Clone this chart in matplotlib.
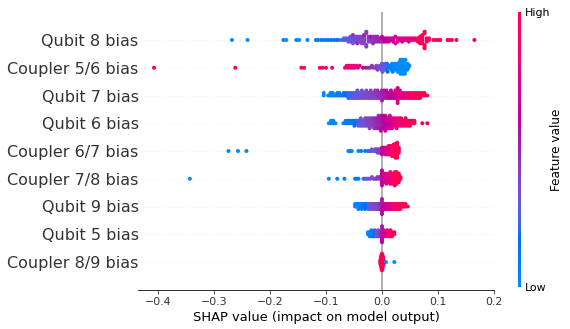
import numpy as np
import matplotlib
matplotlib.use("Agg")
import matplotlib.pyplot as plt
from matplotlib.colors import LinearSegmentedColormap
from matplotlib.cm import ScalarMappable

# ---------------- data (top row first) ----------------
features = ["Qubit 8 bias", "Coupler 5/6 bias", "Qubit 7 bias", "Qubit 6 bias",
            "Coupler 6/7 bias", "Coupler 7/8 bias", "Qubit 9 bias", "Qubit 5 bias",
            "Coupler 8/9 bias"]

qubit8_shap = [
    -0.268, -0.240, -0.176, -0.171, -0.153, -0.148, -0.133, -0.118, -0.114, -0.109,
    -0.105, -0.100, -0.096, -0.091, -0.086, -0.081, -0.077, -0.072,
    -0.068, -0.068, -0.064, -0.064,
    -0.060, -0.060, -0.060, -0.056, -0.056, -0.056, -0.056,
    -0.052, -0.052, -0.052, -0.052, -0.052, -0.052,
    -0.048, -0.048, -0.048, -0.048, -0.044, -0.044, -0.044, -0.044, -0.044,
    -0.040, -0.040, -0.040, -0.040, -0.036, -0.036, -0.036, -0.036, -0.036,
    -0.032, -0.032, -0.032, -0.032, -0.032, -0.032, -0.028, -0.028, -0.028, -0.028,
    -0.024, -0.024, -0.024, -0.024, -0.020, -0.020, -0.020, -0.020,
    -0.016, -0.016, -0.016, -0.016, -0.016, -0.012, -0.012, -0.012, -0.012,
    -0.008, -0.008, -0.008, -0.008, -0.004, -0.004, -0.004,
    0.000, 0.000, 0.000, 0.000, 0.004, 0.004, 0.004, 0.008, 0.008, 0.008,
    0.012, 0.012, 0.012, 0.016, 0.016, 0.020, 0.020, 0.020, 0.024, 0.024,
    0.028, 0.028, 0.028, 0.032, 0.032, 0.036, 0.036, 0.036, 0.040, 0.040,
    0.044, 0.044, 0.048, 0.048, 0.048, 0.052, 0.052, 0.056, 0.056, 0.060, 0.060,
    0.064, 0.064, 0.064, 0.068, 0.068, 0.068, 0.068, 0.068,
    0.072, 0.072, 0.072, 0.072, 0.072, 0.072, 0.076, 0.076, 0.076, 0.076, 0.076,
    0.080, 0.080, 0.080, 0.084, 0.084,
    0.092, 0.096, 0.101, 0.104, 0.117, 0.121, 0.125, 0.133, 0.165]
qubit8_feat = [
    0.00, 0.00, 0.02, 0.02, 0.03, 0.03, 0.05, 0.06, 0.06, 0.08,
    0.08, 0.10, 0.10, 0.12, 0.15, 0.18, 0.20, 0.22,
    0.25, 0.26, 0.28, 0.27,
    0.30, 0.31, 0.29, 0.32, 0.33, 0.30, 0.34,
    0.33, 0.35, 0.32, 0.36, 0.34, 0.48,
    0.35, 0.36, 0.34, 0.37, 0.36, 0.38, 0.35, 0.37, 0.52,
    0.37, 0.38, 0.36, 0.39, 0.38, 0.40, 0.37, 0.39, 0.41,
    0.39, 0.40, 0.38, 0.41, 0.40, 0.55, 0.40, 0.42, 0.41, 0.43,
    0.42, 0.43, 0.41, 0.44, 0.43, 0.45, 0.42, 0.60,
    0.44, 0.45, 0.43, 0.46, 0.45, 0.46, 0.47, 0.45, 0.48,
    0.47, 0.48, 0.46, 0.49, 0.50, 0.48, 0.52,
    0.58, 0.60, 0.45, 0.62, 0.60, 0.62, 0.64, 0.62, 0.63, 0.65,
    0.64, 0.66, 0.65, 0.65, 0.67, 0.66, 0.68, 0.67, 0.68, 0.70,
    0.69, 0.70, 0.71, 0.70, 0.72, 0.71, 0.73, 0.72, 0.74, 0.75,
    0.75, 0.76, 0.77, 0.78, 0.79, 0.80, 0.81, 0.82, 0.83, 0.84, 0.85,
    0.88, 0.90, 0.89, 0.92, 0.93, 0.91, 0.94, 0.92,
    0.95, 0.96, 0.94, 0.97, 0.95, 0.98, 0.96, 0.97, 0.99, 0.98, 0.97,
    0.99, 1.00, 0.98, 1.00, 0.99,
    1.00, 1.00, 1.00, 1.00, 1.00, 1.00, 1.00, 1.00, 1.00]

coupler56_shap = [
    -0.407, -0.262, -0.144, -0.139, -0.111, -0.106, -0.100, -0.089, -0.066, -0.063,
    -0.061, -0.059, -0.057, -0.055, -0.053, -0.051, -0.049, -0.046, -0.043, -0.040,
    -0.034, -0.029, -0.025, -0.021, -0.018, -0.015, -0.012, -0.010, -0.008, -0.006,
    -0.004, -0.003, -0.002, -0.001, 0.000, 0.001, 0.002, 0.003, 0.004, 0.005,
    0.006, 0.007, 0.008, 0.009, 0.010, 0.012, 0.014, 0.015, 0.016, 0.017,
    0.018, 0.019, 0.020, 0.021, 0.022, 0.023, 0.024, 0.025, 0.026, 0.027,
    0.028, 0.029, 0.030, 0.030, 0.031, 0.032, 0.032, 0.033, 0.033, 0.034,
    0.034, 0.035, 0.035, 0.036, 0.036, 0.037, 0.037, 0.038, 0.038, 0.039,
    0.039, 0.040, 0.040, 0.041, 0.042, 0.043, 0.044, 0.045, 0.046, 0.047,
    0.049]
coupler56_feat = [
    1.00, 1.00, 0.98, 0.98, 0.96, 0.95, 0.94, 0.92, 0.85, 0.84,
    0.84, 0.83, 0.82, 0.82, 0.81, 0.80, 0.80, 0.78, 0.76, 0.74,
    0.62, 0.55, 0.50, 0.48, 0.46, 0.44, 0.42, 0.40, 0.38, 0.37,
    0.36, 0.35, 0.34, 0.33, 0.32, 0.30, 0.30, 0.28, 0.27, 0.26,
    0.25, 0.24, 0.22, 0.20, 0.18, 0.15, 0.12, 0.10, 0.08, 0.06,
    0.05, 0.04, 0.03, 0.03, 0.02, 0.02, 0.01, 0.01, 0.00, 0.00,
    0.00, 0.00, 0.00, 0.00, 0.00, 0.00, 0.00, 0.00, 0.00, 0.00,
    0.00, 0.00, 0.00, 0.00, 0.00, 0.00, 0.00, 0.00, 0.00, 0.00,
    0.00, 0.00, 0.00, 0.00, 0.00, 0.00, 0.00, 0.00, 0.00, 0.00,
    0.00]

qubit7_shap = [
    -0.104, -0.104, -0.096, -0.092, -0.092, -0.088, -0.088, -0.084, -0.080, -0.080,
    -0.076, -0.076, -0.072, -0.068, -0.068, -0.064, -0.064,
    -0.060, -0.060, -0.060, -0.056, -0.056, -0.056, -0.052, -0.052, -0.052,
    -0.048, -0.048, -0.048, -0.044, -0.044, -0.044, -0.044, -0.040, -0.040, -0.040,
    -0.036, -0.036, -0.036, -0.036, -0.032, -0.032, -0.032, -0.028, -0.028, -0.028, -0.028,
    -0.024, -0.024, -0.024, -0.020, -0.020, -0.020, -0.020, -0.016, -0.016, -0.016,
    -0.012, -0.012, -0.012, -0.012, -0.008, -0.008, -0.008, -0.008, -0.004, -0.004, -0.004,
    0.000, 0.000, 0.000, 0.000, 0.000, 0.004, 0.004, 0.004, 0.004,
    0.008, 0.008, 0.008, 0.008, 0.012, 0.012, 0.012, 0.016, 0.016, 0.016, 0.016,
    0.020, 0.020, 0.020, 0.024, 0.024, 0.024, 0.024,
    0.028, 0.028, 0.028, 0.028, 0.028, 0.028, 0.028,
    0.032, 0.032, 0.032, 0.032, 0.036, 0.036, 0.036, 0.040, 0.040, 0.040,
    0.044, 0.044, 0.044, 0.048, 0.048, 0.048, 0.052, 0.052, 0.052,
    0.056, 0.056, 0.056, 0.060, 0.060, 0.060, 0.064, 0.064, 0.064,
    0.068, 0.068, 0.068, 0.072, 0.072, 0.076, 0.076, 0.081]
qubit7_feat = [
    0.00, 0.00, 0.02, 0.03, 0.03, 0.05, 0.05, 0.07, 0.08, 0.09,
    0.10, 0.11, 0.12, 0.14, 0.15, 0.18, 0.19,
    0.20, 0.22, 0.21, 0.24, 0.23, 0.25, 0.27, 0.26, 0.28,
    0.30, 0.29, 0.31, 0.32, 0.30, 0.33, 0.31, 0.33, 0.34, 0.32,
    0.35, 0.34, 0.36, 0.33, 0.36, 0.37, 0.35, 0.38, 0.37, 0.39, 0.36,
    0.39, 0.40, 0.38, 0.41, 0.40, 0.42, 0.39, 0.42, 0.43, 0.41,
    0.43, 0.44, 0.42, 0.45, 0.45, 0.46, 0.44, 0.47, 0.47, 0.48, 0.46,
    0.49, 0.50, 0.48, 0.52, 0.51, 0.53, 0.54, 0.52, 0.55,
    0.56, 0.57, 0.55, 0.58, 0.58, 0.60, 0.59, 0.61, 0.62, 0.60, 0.63,
    0.64, 0.65, 0.63, 0.66, 0.67, 0.65, 0.68,
    0.69, 0.70, 0.68, 0.71, 0.72, 0.70, 0.73,
    0.74, 0.75, 0.73, 0.76, 0.77, 0.76, 0.78, 0.79, 0.78, 0.80,
    0.81, 0.82, 0.83, 0.84, 0.85, 0.86, 0.87, 0.88, 0.89,
    0.90, 0.91, 0.92, 0.93, 0.94, 0.94, 0.95, 0.96, 0.96,
    0.97, 0.98, 0.98, 0.99, 0.99, 1.00, 1.00, 1.00]

qubit6_shap = [
    -0.095, -0.091, -0.091, -0.087, -0.087, -0.083, -0.069, -0.065, -0.065, -0.061,
    -0.061, -0.057, -0.057, -0.053, -0.053, -0.049, -0.049, -0.049, -0.046, -0.046,
    -0.042, -0.042, -0.042, -0.038, -0.038, -0.038, -0.038, -0.034, -0.034, -0.034,
    -0.030, -0.030, -0.030, -0.030, -0.026, -0.026, -0.026, -0.026,
    -0.022, -0.022, -0.022, -0.022, -0.022, -0.018, -0.018, -0.018, -0.018,
    -0.014, -0.014, -0.014, -0.014, -0.014, -0.010, -0.010, -0.010, -0.010, -0.010,
    -0.006, -0.006, -0.006, -0.006, -0.006, -0.006,
    -0.002, -0.002, -0.002, -0.002, -0.002, -0.002, -0.002,
    0.002, 0.002, 0.002, 0.002, 0.002, 0.002,
    0.006, 0.006, 0.006, 0.006, 0.006, 0.006, 0.006,
    0.010, 0.010, 0.010, 0.010, 0.010, 0.014, 0.014, 0.014, 0.014, 0.014, 0.014,
    0.018, 0.018, 0.018, 0.018, 0.018, 0.022, 0.022, 0.022, 0.022,
    0.026, 0.026, 0.026, 0.026, 0.026, 0.030, 0.030, 0.030, 0.030,
    0.034, 0.034, 0.034, 0.034, 0.038, 0.038, 0.038, 0.042, 0.042, 0.042, 0.042,
    0.046, 0.046, 0.046, 0.050, 0.050, 0.050, 0.054, 0.054, 0.058, 0.058,
    0.072, 0.081]
qubit6_feat = [
    0.00, 0.00, 0.01, 0.02, 0.02, 0.03, 0.05, 0.06, 0.07, 0.08,
    0.09, 0.10, 0.11, 0.12, 0.13, 0.15, 0.16, 0.17, 0.18, 0.20,
    0.28, 0.29, 0.30, 0.30, 0.31, 0.32, 0.31, 0.33, 0.34, 0.33,
    0.35, 0.36, 0.34, 0.37, 0.37, 0.38, 0.36, 0.39,
    0.39, 0.40, 0.41, 0.38, 0.42, 0.42, 0.43, 0.41, 0.44,
    0.45, 0.46, 0.44, 0.47, 0.46, 0.48, 0.49, 0.47, 0.50, 0.48,
    0.50, 0.51, 0.49, 0.52, 0.53, 0.51,
    0.53, 0.54, 0.52, 0.55, 0.56, 0.54, 0.57,
    0.57, 0.58, 0.56, 0.59, 0.60, 0.58,
    0.60, 0.61, 0.59, 0.62, 0.63, 0.61, 0.64,
    0.64, 0.65, 0.63, 0.66, 0.67, 0.67, 0.68, 0.66, 0.69, 0.70, 0.68,
    0.71, 0.72, 0.70, 0.73, 0.74, 0.78, 0.79, 0.77, 0.80,
    0.81, 0.82, 0.80, 0.83, 0.84, 0.85, 0.84, 0.86, 0.85,
    0.87, 0.88, 0.86, 0.89, 0.89, 0.90, 0.90, 0.91, 0.92, 0.91, 0.92,
    0.93, 0.94, 0.93, 0.95, 0.95, 0.96, 0.97, 0.97, 0.98, 0.98,
    1.00, 1.00]

coupler67_shap = [
    -0.274, -0.257, -0.242, -0.060, -0.057, -0.054, -0.042, -0.037, -0.030, -0.025,
    -0.022, -0.020, -0.018, -0.016, -0.014, -0.012, -0.010, -0.009, -0.008, -0.007,
    -0.006, -0.005, -0.004, -0.003, -0.002, -0.001, 0.000, 0.000, 0.000, 0.000,
    0.003, 0.003, 0.003, 0.003, 0.006, 0.006, 0.006, 0.006, 0.006, 0.009,
    0.009, 0.009, 0.009, 0.009, 0.012, 0.012, 0.012, 0.012, 0.012, 0.012,
    0.015, 0.015, 0.015, 0.015, 0.015, 0.015, 0.018, 0.018, 0.018, 0.018,
    0.018, 0.018, 0.018, 0.021, 0.021, 0.021, 0.021, 0.021, 0.021, 0.021,
    0.021, 0.024, 0.024, 0.024, 0.024, 0.024, 0.024, 0.024, 0.024, 0.024,
    0.027, 0.027, 0.027, 0.027, 0.027, 0.027, 0.027, 0.027, 0.027, 0.027,
    0.030, 0.030, 0.030, 0.030]
coupler67_feat = [
    0.00, 0.00, 0.00, 0.05, 0.05, 0.06, 0.08, 0.10, 0.12, 0.22,
    0.25, 0.27, 0.29, 0.31, 0.33, 0.35, 0.37, 0.38, 0.39, 0.40,
    0.41, 0.42, 0.43, 0.44, 0.45, 0.46, 0.55, 0.56, 0.57, 0.58,
    0.60, 0.61, 0.62, 0.63, 0.65, 0.66, 0.67, 0.68, 0.69, 0.71,
    0.72, 0.73, 0.74, 0.75, 0.77, 0.78, 0.79, 0.80, 0.81, 0.82,
    0.83, 0.84, 0.85, 0.86, 0.87, 0.88, 0.89, 0.90, 0.90, 0.91,
    0.91, 0.92, 0.92, 0.93, 0.93, 0.94, 0.94, 0.95, 0.95, 0.96,
    0.96, 0.96, 0.97, 0.97, 0.97, 0.98, 0.98, 0.98, 0.99, 0.99,
    0.99, 0.99, 1.00, 1.00, 1.00, 1.00, 1.00, 1.00, 1.00, 1.00,
    1.00, 1.00, 1.00, 1.00]

coupler78_shap = [
    -0.343, -0.095, -0.080, -0.067, -0.048, -0.045, -0.042, -0.033, -0.030, -0.027,
    -0.024, -0.021, -0.018, -0.015, -0.012, -0.010, -0.008, -0.006, -0.004, -0.002,
    0.000, 0.000, 0.000, 0.000, 0.000, 0.000, 0.000, 0.000, 0.000, 0.004,
    0.004, 0.004, 0.004, 0.004, 0.004, 0.008, 0.008, 0.008, 0.008, 0.008,
    0.008, 0.008, 0.011, 0.011, 0.011, 0.011, 0.011, 0.011, 0.015, 0.015,
    0.015, 0.015, 0.015, 0.015, 0.015, 0.015, 0.019, 0.019, 0.019, 0.019,
    0.019, 0.019, 0.019, 0.023, 0.023, 0.023, 0.023, 0.023, 0.023, 0.023,
    0.023, 0.023, 0.026, 0.026, 0.026, 0.026, 0.026, 0.026, 0.026, 0.026,
    0.030, 0.030, 0.030, 0.030, 0.030, 0.030, 0.033, 0.033]
coupler78_feat = [
    0.00, 0.02, 0.04, 0.06, 0.08, 0.09, 0.10, 0.25, 0.28, 0.30,
    0.32, 0.34, 0.36, 0.38, 0.40, 0.42, 0.43, 0.44, 0.45, 0.46,
    0.55, 0.56, 0.57, 0.58, 0.59, 0.60, 0.61, 0.62, 0.63, 0.64,
    0.65, 0.66, 0.67, 0.68, 0.69, 0.70, 0.71, 0.72, 0.73, 0.74,
    0.75, 0.76, 0.77, 0.78, 0.79, 0.80, 0.81, 0.82, 0.83, 0.84,
    0.85, 0.85, 0.86, 0.86, 0.87, 0.87, 0.88, 0.88, 0.89, 0.89,
    0.90, 0.90, 0.91, 0.91, 0.92, 0.92, 0.93, 0.93, 0.94, 0.94,
    0.95, 0.95, 0.96, 0.96, 0.97, 0.97, 0.98, 0.98, 0.99, 0.99,
    1.00, 1.00, 1.00, 1.00, 1.00, 1.00, 1.00, 1.00]

qubit9_shap = [
    -0.048, -0.048, -0.045, -0.045, -0.042, -0.042, -0.042, -0.039, -0.039,
    -0.036, -0.036, -0.036, -0.033, -0.033, -0.030, -0.030, -0.030, -0.027, -0.027,
    -0.024, -0.024, -0.024, -0.021, -0.021, -0.021, -0.018, -0.018, -0.018,
    -0.015, -0.015, -0.015, -0.012, -0.012, -0.012, -0.009, -0.009, -0.009,
    -0.006, -0.006, -0.006, -0.003, -0.003, -0.003,
    0.000, 0.000, 0.000, 0.000, 0.000, 0.000, 0.000,
    0.003, 0.003, 0.003, 0.006, 0.006, 0.006, 0.009, 0.009, 0.009,
    0.012, 0.012, 0.012, 0.015, 0.015, 0.015, 0.018, 0.018, 0.018,
    0.021, 0.021, 0.021, 0.024, 0.024, 0.024, 0.027, 0.027, 0.027,
    0.030, 0.030, 0.030, 0.033, 0.033, 0.033,
    0.036, 0.036, 0.039, 0.039, 0.042, 0.042, 0.046]
qubit9_feat = [
    0.00, 0.01, 0.02, 0.03, 0.04, 0.05, 0.05, 0.06, 0.07,
    0.08, 0.09, 0.10, 0.11, 0.12, 0.13, 0.14, 0.15, 0.17, 0.18,
    0.28, 0.30, 0.29, 0.31, 0.32, 0.30, 0.33, 0.34, 0.32,
    0.35, 0.36, 0.34, 0.37, 0.38, 0.36, 0.40, 0.41, 0.39,
    0.42, 0.44, 0.43, 0.45, 0.47, 0.46,
    0.52, 0.55, 0.58, 0.54, 0.60, 0.56, 0.59,
    0.60, 0.62, 0.61, 0.63, 0.64, 0.65, 0.66, 0.67, 0.68,
    0.70, 0.72, 0.71, 0.74, 0.76, 0.75, 0.80, 0.81, 0.82,
    0.83, 0.84, 0.85, 0.86, 0.87, 0.88, 0.89, 0.90, 0.91,
    0.91, 0.92, 0.93, 0.94, 0.95, 0.96,
    0.96, 0.97, 0.98, 0.98, 0.99, 1.00, 1.00]

qubit5_shap = [
    -0.025, -0.025, -0.022, -0.022, -0.022, -0.019, -0.019, -0.019, -0.019,
    -0.016, -0.016, -0.016, -0.013, -0.013, -0.013, -0.013,
    -0.010, -0.010, -0.010, -0.007, -0.007, -0.007, -0.007,
    -0.004, -0.004, -0.004, -0.002, -0.002, -0.002,
    0.000, 0.000, 0.000, 0.000, 0.000, 0.000, 0.000, 0.000, 0.000,
    0.003, 0.003, 0.003, 0.003, 0.006, 0.006, 0.006,
    0.009, 0.009, 0.009, 0.009, 0.012, 0.012, 0.012,
    0.015, 0.015, 0.015, 0.015, 0.018, 0.018, 0.018, 0.022, 0.022]
qubit5_feat = [
    0.00, 0.01, 0.03, 0.04, 0.05, 0.07, 0.08, 0.09, 0.10,
    0.12, 0.13, 0.14, 0.16, 0.17, 0.18, 0.20,
    0.30, 0.31, 0.32, 0.33, 0.34, 0.35, 0.36,
    0.40, 0.41, 0.42, 0.44, 0.45, 0.46,
    0.50, 0.52, 0.55, 0.53, 0.57, 0.51, 0.58, 0.54, 0.60,
    0.64, 0.65, 0.66, 0.67, 0.70, 0.71, 0.72,
    0.76, 0.77, 0.78, 0.79, 0.83, 0.84, 0.85,
    0.90, 0.91, 0.92, 0.93, 0.95, 0.96, 0.97, 0.99, 1.00]

coupler89_shap = [
    -0.003, -0.003, -0.003, -0.002, -0.002, -0.002, -0.002, -0.002, -0.002, -0.001,
    -0.001, -0.001, -0.001, -0.001, -0.001, -0.001, -0.001, -0.001, 0.000, 0.000,
    0.000, 0.000, 0.000, 0.000, 0.000, 0.000, 0.000, 0.000, 0.000, 0.001,
    0.001, 0.001, 0.001, 0.001, 0.001, 0.001, 0.001, 0.001, 0.002, 0.002,
    0.002, 0.002, 0.002, 0.002, 0.003, 0.003, 0.003, 0.007, 0.022]
coupler89_feat = [
    0.95, 0.93, 0.96, 0.92, 0.97, 0.94, 0.98, 0.95, 0.93, 0.96,
    0.92, 0.97, 0.94, 0.98, 0.95, 0.99, 0.93, 0.96, 0.97, 0.94,
    0.98, 0.95, 0.99, 0.96, 1.00, 0.93, 0.97, 0.94, 0.98, 0.95,
    0.96, 0.99, 0.93, 0.97, 0.94, 0.98, 0.95, 1.00, 0.96, 0.93,
    0.97, 0.94, 0.98, 0.95, 0.96, 0.99, 0.97, 0.00, 0.00]

shap_rows = [qubit8_shap, coupler56_shap, qubit7_shap, qubit6_shap, coupler67_shap,
             coupler78_shap, qubit9_shap, qubit5_shap, coupler89_shap]
feat_rows = [qubit8_feat, coupler56_feat, qubit7_feat, qubit6_feat, coupler67_feat,
             coupler78_feat, qubit9_feat, qubit5_feat, coupler89_feat]

for a, b, nm in zip(shap_rows, feat_rows, features):
    assert len(a) == len(b), (nm, len(a), len(b))


# ---------------- SHAP "red_blue" colormap (Lch interpolation) ----------------
def lch2rgb(l, c, h):
    a = c * np.cos(h)
    b = c * np.sin(h)
    fy = (l + 16.0) / 116.0
    fx = fy + a / 500.0
    fz = fy - b / 200.0

    def finv(t):
        return np.where(t > 6 / 29, t ** 3, 3 * (6 / 29) ** 2 * (t - 4 / 29))

    X = 0.95047 * finv(fx)
    Y = 1.00000 * finv(fy)
    Z = 1.08883 * finv(fz)
    M = np.array([[3.2406, -1.5372, -0.4986],
                  [-0.9689, 1.8758, 0.0415],
                  [0.0557, -0.2040, 1.0570]])
    lin = M @ np.array([X, Y, Z])
    rgb = np.where(lin > 0.0031308, 1.055 * np.abs(lin) ** (1 / 2.4) - 0.055, 12.92 * lin)
    return np.clip(rgb, 0, 1)


blue_lch = [54.0, 70.0, 4.6588]
red_lch = [54.0, 90.0, 0.35470565 + 2 * np.pi]
l_mid = 40.0
nsteps = 100
l_vals = list(np.linspace(blue_lch[0], l_mid, nsteps // 2)) + list(np.linspace(l_mid, red_lch[0], nsteps // 2))
c_vals = np.linspace(blue_lch[1], red_lch[1], nsteps)
h_vals = np.linspace(blue_lch[2], red_lch[2], nsteps)
cols = [lch2rgb(l, c, h) for l, c, h in zip(l_vals, c_vals, h_vals)]
red_blue = LinearSegmentedColormap.from_list("red_blue", cols)

# ---------------- figure ----------------
W, H = 570, 329
fig = plt.figure(figsize=(W / 72, H / 72), dpi=72)
ax = fig.add_axes([138 / W, 1 - 289.75 / H, 356 / W, 277.5 / H])

axis_color = "#333333"
n = len(features)
ax.axvline(x=0, color="#999999", zorder=-1)

row_height = 0.4
for i, (vals, fvals) in enumerate(zip(shap_rows, feat_rows)):
    pos = n - 1 - i
    ax.axhline(y=pos, color="#cccccc", lw=0.5, dashes=(1, 5), zorder=-1)
    shaps = np.array(vals, dtype=float)
    fv = np.array(fvals, dtype=float)
    N = len(shaps)
    nbins = 100
    quant = np.round(nbins * (shaps - shaps.min()) / (shaps.max() - shaps.min() + 1e-8))
    inds = np.argsort(quant, kind="stable")
    layer = 0
    last_bin = -1
    ys = np.zeros(N)
    for ind in inds:
        if quant[ind] != last_bin:
            layer = 0
        ys[ind] = np.ceil(layer / 2) * ((layer % 2) * 2 - 1)
        layer += 1
        last_bin = quant[ind]
    ys *= 0.9 * (row_height / np.max(ys + 1))
    ax.scatter(shaps, pos + ys, c=fv, cmap=red_blue, vmin=0, vmax=1, s=16,
               linewidth=0, alpha=1, zorder=3)

ax.set_ylim(-1, n)
ax.set_yticks(range(n))
ax.set_yticklabels(features[::-1], fontsize=16)
ax.xaxis.set_ticks_position("bottom")
ax.yaxis.set_ticks_position("none")
for s in ["right", "top", "left"]:
    ax.spines[s].set_visible(False)
ax.tick_params(color=axis_color, labelcolor=axis_color)
ax.tick_params("x", labelsize=11)
ax.tick_params("y", pad=-4)
ax.set_xticks([-0.4, -0.3, -0.2, -0.1, 0.0, 0.1, 0.2])
ax.set_xlabel("SHAP value (impact on model output)", fontsize=13)

cax = fig.add_axes([517.5 / W, 1 - 287 / H, 3.5 / W, 275 / H])
m = ScalarMappable(cmap=red_blue)
m.set_array([0, 1])
cb = fig.colorbar(m, cax=cax, ticks=[0, 1])
cb.set_ticklabels(["Low", "High"])
cb.set_label("Feature value", size=12, labelpad=0)
cb.ax.tick_params(labelsize=11, length=0)
cb.outline.set_visible(False)

fig.savefig("out.png", dpi=72)
